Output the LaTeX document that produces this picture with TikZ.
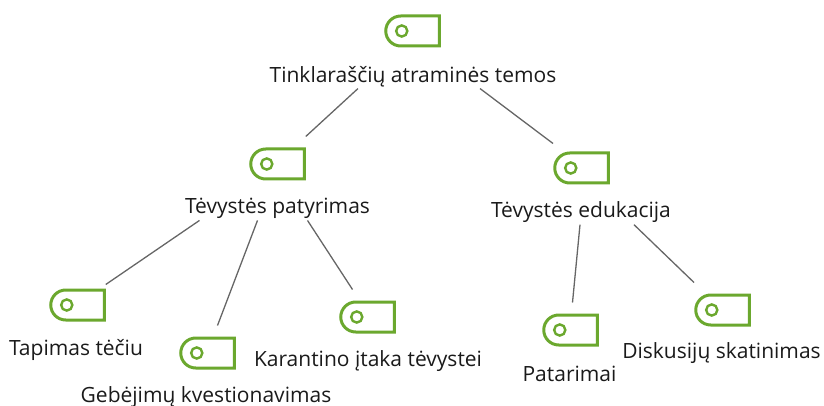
\documentclass[tikz,border=0pt]{standalone}
\usepackage{fontspec}
\setmainfont{Open Sans}
\usetikzlibrary{shapes.misc}
\definecolor{tagGreen}{HTML}{6BA82E}
\definecolor{linkGray}{HTML}{666666}
\definecolor{textDark}{HTML}{1A1A1A}
\tikzset{
 tagicon/.style={shape=rounded rectangle,rounded rectangle right arc=none,draw=tagGreen,line width=3pt,
  minimum width=53.5pt,minimum height=30pt,inner sep=0pt,
  path picture={\draw[tagGreen,line width=2.4pt] ([xshift=16pt]path picture bounding box.west) circle (5.6pt);}},
 toplabel/.style={text=textDark,inner sep=0pt,font=\fontsize{21}{25}\selectfont},
 link/.style={draw=linkGray,line width=1.3pt}
}
\begin{document}
\begin{tikzpicture}[x=1pt,y=-1pt]
 \useasboundingbox (0,0) rectangle (824,406);
 % icons
 \node (i0) [tagicon] at (412.5,31) {};
 \node (i1) [tagicon] at (277.5,164) {};
 \node (i2) [tagicon] at (581.5,168) {};
 \node (i3) [tagicon] at (77.5,305) {};
 \node (i4) [tagicon] at (207.5,353) {};
 \node (i5) [tagicon] at (367.5,317) {};
 \node (i6) [tagicon] at (570.5,330) {};
 \node (i7) [tagicon] at (722.5,310) {};

 % labels
 \node (l0) [toplabel] at (413,76.5) {Tinklaraščių atraminės temos};
 \node (l1) [toplabel] at (277.5,208.5) {Tėvystės patyrimas};
 \node (l2) [toplabel] at (581,212.5) {Tėvystės edukacija};
 \node (l3) [toplabel] at (76,349.5) {Tapimas tėčiu};
 \node (l4) [toplabel] at (206,397) {Gebėjimų kvestionavimas};
 \node (l5) [toplabel] at (368,361.5) {Karantino įtaka tėvystei};
 \node (l6) [toplabel] at (569.5,373.5) {Patarimai};
 \node (l7) [toplabel] at (721.5,353.5) {Diskusijų skatinimas};

 % connectors
 \draw[link] ([xshift=-55pt,yshift=-1.5pt]l0.south) -- ([yshift=11pt]i1.north east);
 \draw[link] ([xshift=67pt,yshift=-1.5pt]l0.south) -- ([xshift=-28.5pt,yshift=8pt]i2.north);
 \draw[link] ([xshift=-78pt,yshift=-1.5pt]l1.south) -- ([yshift=4pt]i3.north east);
 \draw[link] ([xshift=-20pt,yshift=-1.5pt]l1.south) -- ([xshift=10pt,yshift=11pt]i4.north);
 \draw[link] ([xshift=30pt,yshift=-1.5pt]l1.south) -- ([xshift=-15pt,yshift=11pt]i5.north);
 \draw[link] ([xshift=-1pt,yshift=-1.5pt]l2.south) -- ([xshift=2pt,yshift=11pt]i6.north);
 \draw[link] ([xshift=53pt,yshift=-1.5pt]l2.south) -- ([xshift=-28.5pt,yshift=11pt]i7.north);
\end{tikzpicture}
\end{document}
